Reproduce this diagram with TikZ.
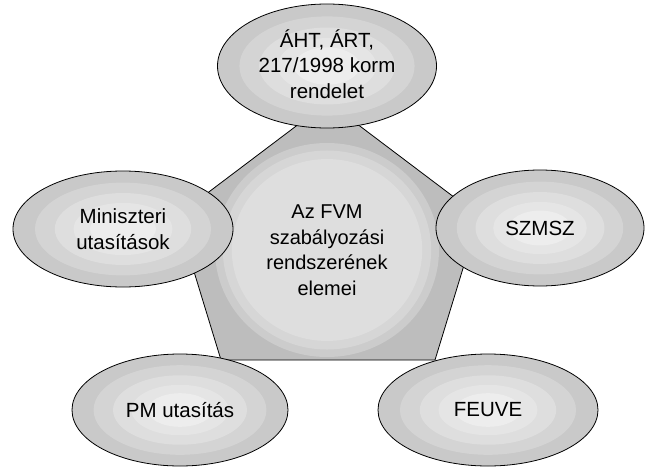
\documentclass[tikz,border=0pt]{standalone}
\usepackage{fontspec}
\setmainfont{Liberation Sans}
\usepackage{tikz}
\usetikzlibrary{shapes.geometric,calc}
\definecolor{pentagray}{gray}{0.74}
\tikzset{
  oval/.style={ellipse, draw, line width=0.8pt, fill=white!79!black, align=center, inner sep=0pt,
    minimum width=218pt, minimum height=116pt, font=\fontsize{20.5}{25.5}\selectfont,
    path picture={
      \foreach \f/\g in {0.8/83, 0.62/87, 0.45/90, 0.3/93}
        \fill[white!\g!black] let \p1=($(path picture bounding box.north east)-(path picture bounding box.center)$) in
          (path picture bounding box.center) ellipse [x radius=\f*\x1, y radius=\f*\y1];
    }},
  hub/.style={ellipse, fill=white!80!black, align=center, inner sep=0pt,
    minimum width=224pt, minimum height=214pt, font=\fontsize{20}{25.5}\selectfont,
    path picture={
      \foreach \f/\g in {0.93/84, 0.85/87}
        \fill[white!\g!black] let \p1=($(path picture bounding box.north east)-(path picture bounding box.center)$) in
          (path picture bounding box.center) ellipse [x radius=\f*\x1, y radius=\f*\y1];
    }},
  penta/.style={draw, line width=0.8pt, fill=pentagray, line join=miter}
}
\begin{document}
\begin{tikzpicture}[x=1pt, y=-1pt]
  \useasboundingbox (0,0) rectangle (647,468);
  % pentagon behind everything
  \coordinate (ptop) at (328,102);
  \coordinate (pright) at (479,216);
  \coordinate (pbr) at (435,360);
  \coordinate (pbl) at (221,360);
  \coordinate (pleft) at (177,216);
  \draw[penta] (ptop) -- (pright) -- (pbr) -- (pbl) -- (pleft) -- cycle;
  \node[hub] (center) at (327,250) {Az FVM\\szabályozási\\rendszerének\\elemei};
  % the five ovals
  \node[oval, minimum width=219pt, minimum height=124pt] (law) at (327,66) {ÁHT, ÁRT,\\217/1998 korm\\rendelet\vphantom{y}};
  \node[oval, minimum width=220pt] (minister) at (123,229) {Miniszteri\\utasítások};
  \node[oval, minimum width=208pt] (szmsz) at (540,228) {SZMSZ};
  \node[oval, minimum width=216pt, minimum height=112pt] (pm) at (180,410) {PM utasítás};
  \node[oval, minimum width=220pt, minimum height=112pt] (feuve) at (488,410) {FEUVE};
\end{tikzpicture}
\end{document}
